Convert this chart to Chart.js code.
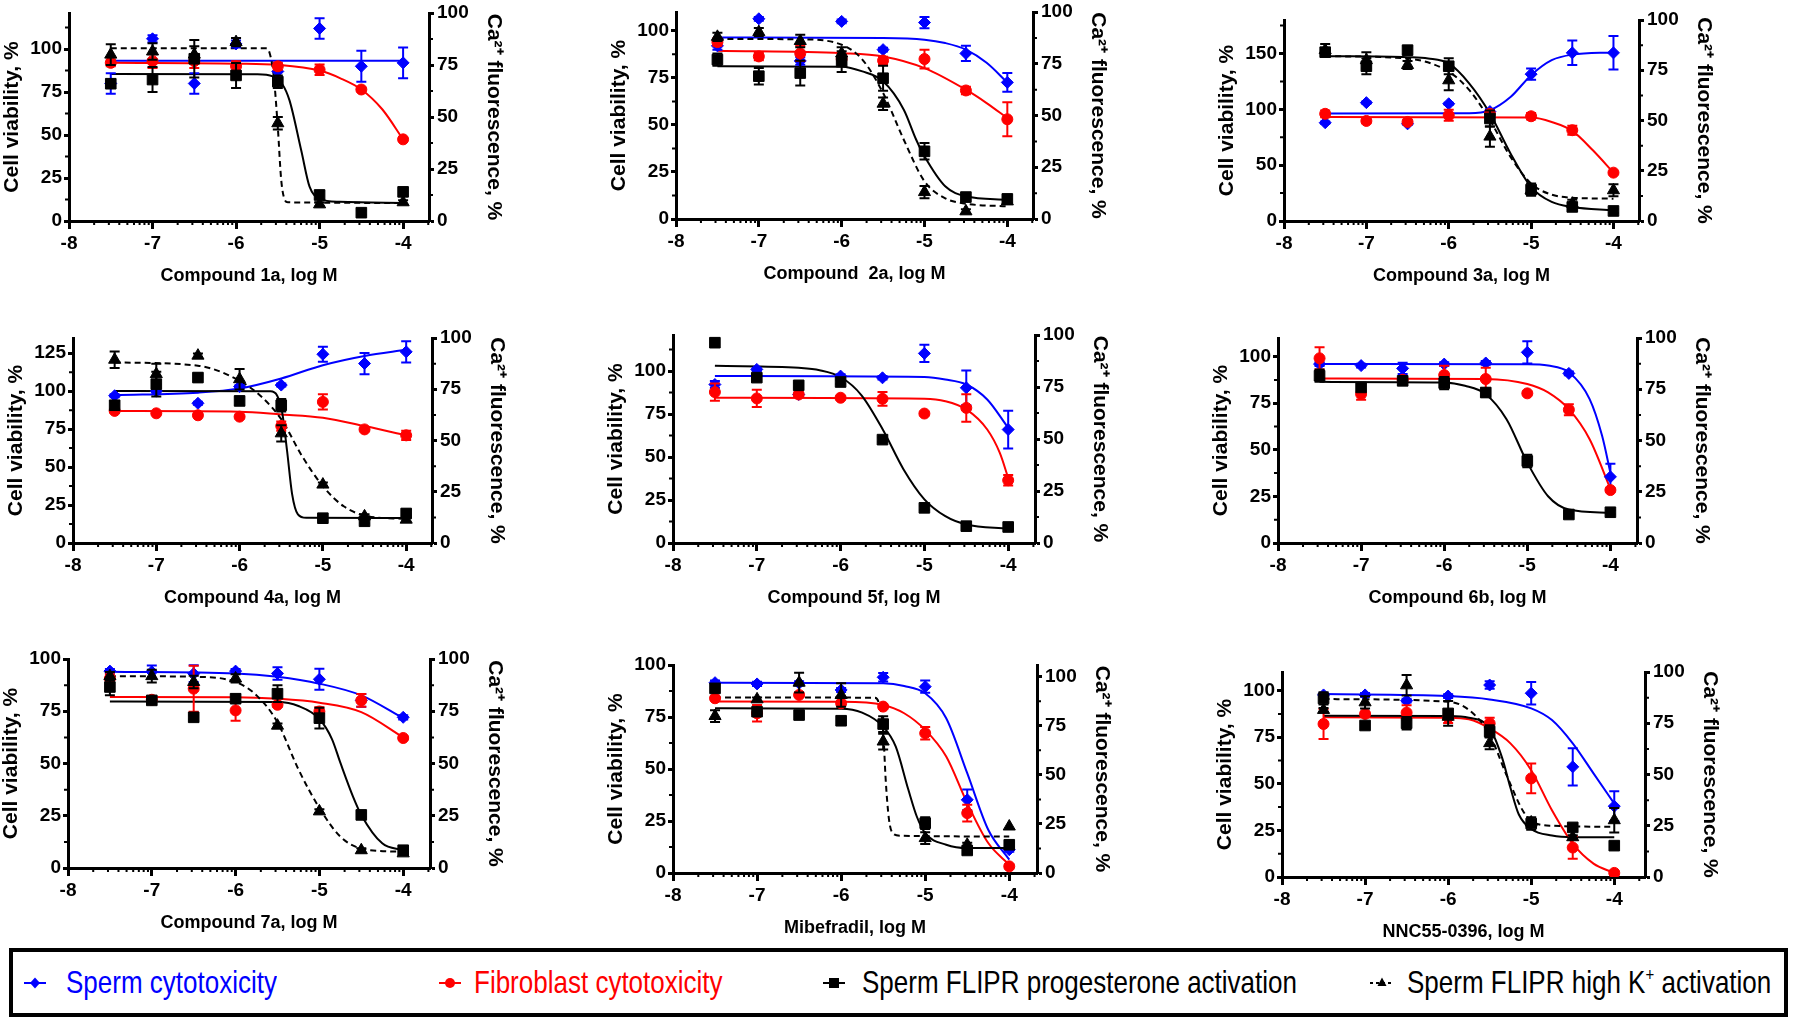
<!DOCTYPE html>
<html>
<head>
<meta charset="utf-8">
<script src="https://cdn.jsdelivr.net/npm/chart.js@4.4.0/dist/chart.umd.min.js"></script>
<style>
  body { margin: 0; background: #fff; width: 1800px; height: 1024px; position: relative; overflow: hidden;
         font-family: "Liberation Sans", Arial, Helvetica, sans-serif; }
  .panel { position: absolute; }
  #legend { position: absolute; left: 9px; top: 948px; width: 1771px; height: 61px; border: 4px solid #000; }
  .item { position: absolute; top: 0; height: 61px; display: flex; align-items: center; font-size: 26px; white-space: nowrap; }
  .item span { display: inline-block; transform: scaleY(1.18); }
  .item svg { position: absolute; top: 18px; }
</style>
</head>
<body>
<div id="panels"></div>
<div id="legend">
  <div class="item" style="left:53px;color:#0000ff"><svg width="26" height="26" style="left:-44px"><line x1="2" y1="13" x2="24" y2="13" stroke="#0000ff" stroke-width="2"/><polygon points="13,7.5 18,13 13,18.5 8,13" fill="#0000ff"/></svg><span>Sperm cytotoxicity</span></div>
  <div class="item" style="left:461px;color:#ff0000"><svg width="26" height="26" style="left:-37px"><line x1="2" y1="13" x2="24" y2="13" stroke="#ff0000" stroke-width="2"/><circle cx="13" cy="13" r="5" fill="#ff0000"/></svg><span>Fibroblast cytotoxicity</span></div>
  <div class="item" style="left:849px;color:#000"><svg width="26" height="26" style="left:-41px"><line x1="2" y1="13" x2="24" y2="13" stroke="#000" stroke-width="2"/><rect x="8" y="8" width="10" height="10" fill="#000"/></svg><span>Sperm FLIPR progesterone activation</span></div>
  <div class="item" style="left:1394px;color:#000"><svg width="26" height="26" style="left:-38px"><line x1="1" y1="13" x2="25" y2="13" stroke="#000" stroke-width="2" stroke-dasharray="3,3"/><polygon points="13,7.5 17.5,16 8.5,16" fill="#000"/></svg><span>Sperm FLIPR high K<sup style="font-size:15px;line-height:0">+</sup>&nbsp;activation</span></div>
</div>
<script>
// ---- data ----
const doses = [-7.5, -7, -6.5, -6, -5.5, -5, -4.5, -4];
const xTickValues = [-8, -7, -6, -5, -4];
const rightTickValues = [0, 25, 50, 75, 100];
const xLabels = ['Compound 1a, log M', 'Compound  2a, log M', 'Compound 3a, log M',
                 'Compound 4a, log M', 'Compound 5f, log M', 'Compound 6b, log M',
                 'Compound 7a, log M', 'Mibefradil, log M', 'NNC55-0396, log M'];
const leftMax = [121, 110, 180, 135, 121, 110, 100, 100, 110];
const leftStep = [25, 25, 50, 25, 25, 25, 25, 25, 25];
const rightMax = [100, 100, 100, 100, 100, 100, 100, 106, 100];
const xMax = [-3.69, -3.69, -3.69, -3.69, -3.68, -3.68, -3.68, -3.67, -3.63];

// cell viability, % (left axis)
const spermVals = [
  [80, 106, 80, 103, 87, 112, 90, 92],
  [92, 106.4, 84, 105, 90, 104.4, 88, 72.6],
  [88, 106, 87, 105, 98, 131.5, 150.6, 150.6],
  [97, 100, 92, 103, 104, 124.3, 118.2, 125.9],
  [92.2, 101, 86.4, 97.1, 96.1, 110.3, 90.3, 66],
  [96, 95.2, 93.7, 96, 96.6, 102.3, 91, 35.5],
  [94.2, 93.9, 93, 94.2, 93.1, 90.3, 80.2, 72.1],
  [91.5, 90.9, 91.2, 88, 94.1, 89.6, 35.2, 11.2],
  [97.7, 97.7, 94.6, 97.1, 103, 98.6, 59.1, 38]
];
const spermErr = [
  [6, 2, 6, 2, 4, 6, 9, 9],
  [2, 1, 2, 1, 1, 3, 4, 5],
  [1, 1, 1, 1, 2, 5, 11, 15],
  [1, 1, 1, 1, 1, 5, 7, 7],
  [2, 1, 1, 1, 1, 5, 10, 11],
  [1, 1, 3, 1, 1, 6, 1, 7],
  [1, 3, 4, 1, 3, 5, 3, 1],
  [1, 1, 1, 1, 2, 3, 5, 1],
  [1, 1, 1, 1, 2, 6, 10, 8]
];
const fibroVals = [
  [92, 93, 93, 90, 90, 88, 76.5, 47.5],
  [94, 86.4, 88, 85, 84.2, 85, 68.3, 53],
  [96, 89.6, 88.7, 94.7, 96, 93.8, 81.3, 43.3],
  [87, 85.4, 84.1, 83.2, 77, 92.9, 74.8, 70.9],
  [87.8, 84.1, 86.4, 84.5, 83.9, 75.3, 78.6, 36.5],
  [99.1, 79.9, 87.6, 90.1, 88, 80.3, 71.5, 28.4],
  [90.7, 80.5, 85.8, 75.4, 78.1, 74.9, 80.2, 62.2],
  [84, 76.8, 85.6, 81.6, 80, 67.2, 28.8, 3.2],
  [82.1, 87.5, 88.2, 85.7, 82.4, 52.9, 15.8, 2.2]
];
const fibroErr = [
  [2, 4, 4, 3, 2, 3, 1, 1],
  [2, 2, 4, 2, 2, 5, 2, 9],
  [3, 2, 2, 5, 3, 3, 4, 1],
  [1, 1, 1, 1, 3, 5, 1, 3],
  [5, 5, 1, 1, 4, 1, 8, 3],
  [6, 3, 1, 5, 6, 1, 3, 1],
  [2, 1, 11, 5, 1, 2, 3, 1],
  [1, 4, 1, 1, 1, 3, 4, 1],
  [8, 1, 4, 3, 3, 8, 6, 1]
];
// Ca2+ fluorescence, % (right axis)
const progVals = [
  [66, 68, 78, 70, 67, 12.5, 4, 14],
  [77, 69, 70.5, 76, 68, 32.7, 10.6, 9.7],
  [84, 77, 85, 77, 51, 15.6, 7, 5],
  [67.2, 77.5, 80.7, 69.3, 67.2, 12.1, 10.6, 14.4],
  [96.3, 79.5, 75.8, 77.4, 49.7, 16.9, 8.1, 7.7],
  [81.6, 75.9, 79.1, 78, 73.4, 40, 13.9, 15],
  [86.6, 80.2, 72.1, 81, 83.4, 71.7, 25.4, 8.5],
  [94.1, 82.2, 80.5, 77.6, 75.9, 25.4, 11.5, 14.4],
  [87.1, 73.9, 75, 79.8, 71, 26.1, 24.2, 15.3]
];
const progErr = [
  [2, 6, 9, 6, 3, 2, 1, 2],
  [3, 4, 6, 5, 6, 4, 2, 2],
  [2, 4, 2, 4, 4, 3, 2, 1],
  [2, 6, 2, 2, 3, 1, 1, 2],
  [2, 1, 1, 1, 1, 1, 1, 1],
  [3, 1, 2, 3, 2, 3, 1, 1],
  [4, 1, 1, 2, 4, 5, 1, 1],
  [2, 2, 1, 1, 4, 3, 1, 1],
  [3, 1, 3, 6, 3, 3, 1, 0]
];
const highKVals = [
  [80, 81.5, 80, 86, 47, 8, null, 9],
  [88, 90.3, 86, 80, 55.7, 13, 3.7, 8.5],
  [85, 80, 77.6, 70, 42, 15.3, 8.6, 15.3],
  [89.4, 82.4, 91.4, 79.9, 53.5, 28.5, 13, 11.4],
  null,
  null,
  [91.8, 91.8, 89, 90.7, 68.1, 27.1, 8.5, 7],
  [80, 88.5, 97, 90.7, 67, 17.8, 14.4, 23.7],
  [81.5, 85.2, 93.5, 78.2, 65.3, 26.6, 19.4, 27.7]
];
const highKErr = [
  [5, 4, 4, 2, 3, 1, 0, 1],
  [2, 2, 3, 3, 3, 3, 1, 1],
  [3, 4, 2, 5, 5, 2, 2, 3],
  [4, 5, 1, 5, 4, 1, 1, 1],
  null,
  null,
  [2, 3, 3, 2, 1, 1, 1, 0],
  [3, 1, 5, 6, 4, 3, 1, 0],
  [1, 3, 5, 1, 3, 1, 1, 6]
];

// fitted curves as [log M, value] knots
const spermFit = [
  [[-7.5, 93.2], [-4, 93.2]],
  [[-7.5, 96.5], [-5.5, 96.2], [-5, 95.3], [-4.75, 93.5], [-4.5, 90], [-4.25, 83], [-4, 72.5]],
  [[-7.5, 96.2], [-5.75, 96.5], [-5.5, 99.2], [-5.25, 111], [-5, 130.6], [-4.75, 144], [-4.5, 149], [-4, 151]],
  [[-7.5, 97.3], [-6.5, 99], [-6, 101.7], [-5.5, 108.3], [-5, 117.1], [-4.5, 123.2], [-4, 127.2]],
  [[-7.5, 97.1], [-5, 96.5], [-4.75, 95.1], [-4.5, 92.2], [-4.25, 83.5], [-4, 67]],
  [[-7.5, 96], [-5, 95.9], [-4.75, 95.2], [-4.5, 91.6], [-4.25, 77.2], [-4.1, 57.5], [-4, 37.7]],
  [[-7.5, 93.9], [-6, 93.1], [-5.5, 91.5], [-5, 88.2], [-4.5, 82.6], [-4, 71.7]],
  [[-7.5, 91.5], [-5.5, 91.2], [-5.25, 89.9], [-5, 86.4], [-4.75, 74.4], [-4.5, 48], [-4.25, 20.8], [-4, 6.4]],
  [[-7.5, 98.2], [-6, 97.1], [-5.5, 95.3], [-5, 90.5], [-4.75, 84.2], [-4.5, 71.7], [-4.25, 55.6], [-4, 39.4]]
];
const fibroFit = [
  [[-7.5, 92], [-6, 91.5], [-5.5, 90.8], [-5, 87.5], [-4.75, 83], [-4.5, 76.5], [-4.25, 65], [-4, 47.5]],
  [[-7.5, 89.4], [-6, 88.1], [-5.5, 86.4], [-5, 80.2], [-4.5, 68.7], [-4.25, 61.6], [-4, 53.6]],
  [[-7.5, 93.2], [-5, 92.6], [-4.75, 88.7], [-4.5, 80.7], [-4.25, 63.3], [-4, 43.3]],
  [[-7.5, 86.9], [-6, 86.5], [-5.5, 84.7], [-5, 82.5], [-4.5, 77], [-4, 70.9]],
  [[-7.5, 84.5], [-5, 83.9], [-4.75, 82.5], [-4.5, 77.7], [-4.25, 66], [-4.1, 52.4], [-4, 37.9]],
  [[-7.5, 88.3], [-5.5, 88], [-5, 85.3], [-4.75, 80.8], [-4.5, 71.8], [-4.25, 55.7], [-4, 29.1]],
  [[-7.5, 81.8], [-6, 81.7], [-5.5, 81], [-5, 79.1], [-4.5, 74.6], [-4, 62.5]],
  [[-7.5, 82.4], [-6, 82.3], [-5.5, 80.8], [-5.25, 76.8], [-5, 68.8], [-4.75, 56], [-4.5, 33.6], [-4.25, 14.4], [-4, 4]],
  [[-7.5, 85.7], [-6, 85.5], [-5.75, 84.6], [-5.5, 79.7], [-5.25, 71.7], [-5, 57.3], [-4.75, 35.8], [-4.5, 17.9], [-4.25, 7.2], [-4, 2.2]]
];
const progFit = [
  [[-7.5, 70.7], [-5.75, 70.5], [-5.56, 69.5], [-5.45, 66], [-5.36, 58], [-5.22, 34], [-5.12, 16.5], [-5, 10.8], [-4.76, 9.2], [-4, 8.7]],
  [[-7.5, 73.8], [-6, 73.6], [-5.75, 71.3], [-5.5, 66.5], [-5.25, 52.8], [-5.1, 38.3], [-5, 30.3], [-4.75, 15.8], [-4.5, 11], [-4, 9.3]],
  [[-7.5, 82], [-6.5, 81.5], [-6.25, 80.9], [-6, 78.4], [-5.75, 68.4], [-5.5, 53.5], [-5.25, 33.6], [-5, 16.9], [-4.75, 9.5], [-4.5, 7], [-4, 5.3]],
  [[-7.5, 74.2], [-5.63, 74], [-5.55, 72], [-5.49, 64], [-5.43, 45], [-5.37, 24], [-5.3, 14], [-5.2, 12.3], [-4, 12.2]],
  [[-7.5, 85.2], [-6.5, 84.2], [-6.25, 83.1], [-6, 79.8], [-5.75, 71], [-5.5, 54.8], [-5.25, 35.5], [-5, 21], [-4.75, 12.9], [-4.5, 8.9], [-4, 6.9]],
  [[-7.5, 78.6], [-6, 78.3], [-5.75, 76.7], [-5.5, 72.6], [-5.25, 60.4], [-5, 39.2], [-4.75, 22.8], [-4.5, 16.3], [-4, 14.7]],
  [[-7.5, 79.7], [-5.5, 79.4], [-5.25, 77.5], [-5, 71.3], [-4.85, 61.7], [-4.75, 50.4], [-4.6, 34.3], [-4.5, 25.4], [-4.25, 11.8], [-4, 8.5]],
  [[-7.5, 83.9], [-6, 83.7], [-5.75, 81.7], [-5.5, 74.6], [-5.35, 64.4], [-5.2, 42.4], [-5.1, 28.8], [-5, 20.3], [-4.75, 14.4], [-4.5, 12.7], [-4, 12.7]],
  [[-7.5, 78.7], [-6, 78.5], [-5.75, 77.7], [-5.5, 72.6], [-5.35, 58.1], [-5.25, 43.5], [-5.15, 30.6], [-5, 23.4], [-4.75, 20.2], [-4.5, 19.4], [-4, 19.4]]
];
const highKFit = [
  [[-7.5, 83.1], [-5.64, 83], [-5.6, 81], [-5.55, 70], [-5.5, 45], [-5.46, 20], [-5.42, 10.5], [-5.38, 9], [-4, 8.7]],
  [[-7.5, 87], [-6.5, 86.8], [-6, 84.2], [-5.75, 77], [-5.5, 60.9], [-5.25, 38.3], [-5, 18.2], [-4.75, 10], [-4.5, 7.4], [-4, 6.1]],
  [[-7.5, 82], [-6.5, 80.8], [-6, 74.3], [-5.75, 65.1], [-5.5, 50.2], [-5.25, 31.9], [-5, 18.6], [-4.75, 13.1], [-4.5, 11.6], [-4, 11.1]],
  [[-7.5, 88.1], [-6.5, 86.5], [-6, 79.1], [-5.75, 71.8], [-5.5, 60.4], [-5.25, 42.4], [-5, 27.7], [-4.75, 17.9], [-4.5, 13.4], [-4, 11.7]],
  null,
  null,
  [[-7.5, 91.8], [-6.5, 91.5], [-6, 89], [-5.75, 82.6], [-5.5, 69.7], [-5.25, 47.2], [-5, 28.7], [-4.75, 15], [-4.5, 9.3], [-4, 7.7]],
  [[-7.5, 89.5], [-5.6, 89.3], [-5.55, 86.4], [-5.5, 72.9], [-5.47, 47.5], [-5.43, 27.1], [-5.38, 20], [-5.3, 19], [-4, 18.6]],
  [[-7.5, 86.8], [-6, 85.5], [-5.75, 81.5], [-5.5, 69.4], [-5.3, 50], [-5.1, 32.3], [-5, 27.4], [-4.75, 25], [-4, 24.5]]
];

// ---- layout: plot box of each panel in page pixels [left, right, top, bottom] ----
const boxes = [
  [69, 429, 13, 221], [676, 1033, 12, 219], [1284, 1639, 20, 221],
  [73, 432, 338, 543], [673, 1035, 335, 543], [1278, 1637, 338, 543],
  [68, 430, 659, 868], [673, 1037, 665, 873], [1282, 1645, 672, 877]
];
const PAD_L = 70, PAD_R = 78, PAD_T = 16, PAD_B = 70;
const FONT = '"Liberation Sans", Arial, Helvetica, sans-serif';
const BLUE = '#0000ff', RED = '#ff0000', BLACK = '#000000';

Chart.defaults.font.family = FONT;
Chart.defaults.color = BLACK;

// error bars drawn with the dataset's own y scale
const errorBars = {
  id: 'errorBars',
  beforeDatasetDraw(chart, args) {
    const ds = chart.data.datasets[args.index];
    if (!ds.errorBars) return;
    const yScale = chart.scales[ds.yAxisID];
    const ctx = chart.ctx;
    ctx.save();
    ctx.strokeStyle = ds.borderColor;
    ctx.lineWidth = 2;
    ctx.beginPath();
    ds.data.forEach((p, i) => {
      if (!p.err) return;
      const x = args.meta.data[i].x;
      const top = yScale.getPixelForValue(p.y + p.err);
      const bot = yScale.getPixelForValue(p.y - p.err);
      ctx.moveTo(x, top); ctx.lineTo(x, bot);
      ctx.moveTo(x - 5, top); ctx.lineTo(x + 5, top);
      ctx.moveTo(x - 5, bot); ctx.lineTo(x + 5, bot);
    });
    ctx.stroke();
    ctx.restore();
  }
};

// small log-decade ticks on x, half-step ticks on both y axes
const minorTicks = {
  id: 'minorTicks',
  afterDraw(chart) {
    const ctx = chart.ctx;
    const xs = chart.scales.x, yl = chart.scales.y, yr = chart.scales.y2;
    ctx.save();
    ctx.strokeStyle = BLACK;
    ctx.lineWidth = 2;
    ctx.beginPath();
    for (let d = -8; d <= -4; d++) {
      for (let k = 2; k <= 9; k++) {
        const v = d + Math.log10(k);
        if (v > xs.max) continue;
        const px = xs.getPixelForValue(v);
        ctx.moveTo(px, xs.top); ctx.lineTo(px, xs.top + 4);
      }
    }
    const ls = chart.options.scales.y.minorStep;
    for (let v = ls; v < yl.max; v += ls * 2) {
      const py = yl.getPixelForValue(v);
      ctx.moveTo(yl.right, py); ctx.lineTo(yl.right - 4, py);
    }
    for (let v = 12.5; v < yr.max; v += 25) {
      const py = yr.getPixelForValue(v);
      ctx.moveTo(yr.left, py); ctx.lineTo(yr.left + 4, py);
    }
    ctx.stroke();
    ctx.restore();
  }
};

function pointSet(vals, errs, color, style, radius, axis, order) {
  return {
    order, yAxisID: axis, showLine: false, errorBars: true,
    data: doses.map((x, i) => ({ x, y: vals[i], err: errs[i] })).filter(p => p.y !== null),
    pointStyle: style, pointRadius: radius, pointHoverRadius: radius,
    pointBackgroundColor: color, pointBorderColor: color, pointBorderWidth: 1,
    borderColor: color, backgroundColor: color
  };
}

function fitSet(knots, color, dash, axis, order) {
  return {
    order, yAxisID: axis,
    data: knots.map(([x, y]) => ({ x, y })),
    borderColor: color, borderWidth: 2, borderDash: dash,
    pointRadius: 0, pointHoverRadius: 0,
    cubicInterpolationMode: 'monotone', fill: false
  };
}

const tickFont = { size: 19, weight: 'bold', family: FONT };
const axisCommon = {
  border: { display: true, width: 3, color: BLACK },
  grid: { drawOnChartArea: false, drawTicks: true, tickLength: 5, tickWidth: 3, tickColor: BLACK }
};

const host = document.getElementById('panels');

boxes.forEach(([L, R, T, B], i) => {
  const wrap = document.createElement('div');
  wrap.className = 'panel';
  const w = R - L + PAD_L + PAD_R, h = B - T + PAD_T + PAD_B;
  wrap.style.left = (L - PAD_L) + 'px';
  wrap.style.top = (T - PAD_T) + 'px';
  wrap.style.width = w + 'px';
  wrap.style.height = h + 'px';
  const canvas = document.createElement('canvas');
  canvas.width = w; canvas.height = h;
  canvas.style.width = w + 'px'; canvas.style.height = h + 'px';
  wrap.appendChild(canvas);
  host.appendChild(wrap);

  const datasets = [
    fitSet(spermFit[i], BLUE, [], 'y', 10),
    fitSet(fibroFit[i], RED, [], 'y', 9),
    fitSet(progFit[i], BLACK, [], 'y2', 8),
    pointSet(spermVals[i], spermErr[i], BLUE, 'rectRot', 6, 'y', 4),
    pointSet(fibroVals[i], fibroErr[i], RED, 'circle', 5.5, 'y', 3),
    pointSet(progVals[i], progErr[i], BLACK, 'rect', 7.5, 'y2', 2)
  ];
  if (highKFit[i]) datasets.push(fitSet(highKFit[i], BLACK, [6, 4], 'y2', 7));
  if (highKVals[i]) datasets.push(pointSet(highKVals[i], highKErr[i], BLACK, 'triangle', 7, 'y2', 1));

  const lStep = leftStep[i];
  const leftTicks = [];
  for (let v = 0; v <= leftMax[i]; v += lStep) leftTicks.push(v);

  new Chart(canvas, {
    type: 'line',
    data: { datasets },
    options: {
      responsive: false,
      animation: false,
      devicePixelRatio: 1,
      layout: { padding: { top: PAD_T, left: 0, right: 0, bottom: 0 } },
      plugins: { legend: { display: false }, tooltip: { enabled: false } },
      scales: {
        x: {
          ...axisCommon,
          type: 'linear', position: 'bottom', min: -8, max: xMax[i],
          grid: { ...axisCommon.grid, tickLength: 8 },
          afterBuildTicks: s => { s.ticks = xTickValues.map(v => ({ value: v })); },
          afterFit: s => { s.height = PAD_B; },
          ticks: { font: tickFont, color: BLACK, padding: 3, maxRotation: 0, autoSkip: false,
                   callback: v => String(v) },
          title: { display: true, text: xLabels[i], color: BLACK,
                   font: { size: 18, weight: 'bold', family: FONT }, padding: { top: 0, bottom: 4 } }
        },
        y: {
          ...axisCommon,
          type: 'linear', position: 'left', min: 0, max: leftMax[i],
          minorStep: lStep / 2,
          afterBuildTicks: s => { s.ticks = leftTicks.map(v => ({ value: v })); },
          afterFit: s => { s.width = PAD_L; },
          ticks: { font: tickFont, color: BLACK, padding: 2 },
          title: { display: true, text: 'Cell viability, %', color: BLACK,
                   font: { size: 21, weight: 'bold', family: FONT }, padding: { top: 1, bottom: 1 } }
        },
        y2: {
          ...axisCommon,
          type: 'linear', position: 'right', min: 0, max: rightMax[i],
          afterBuildTicks: s => { s.ticks = rightTickValues.map(v => ({ value: v })); },
          afterFit: s => { s.width = PAD_R; },
          ticks: { font: tickFont, color: BLACK, padding: 3 },
          title: { display: true, text: 'Ca²⁺ fluorescence, %', color: BLACK,
                   font: { size: 21, weight: 'bold', family: FONT }, padding: { top: 1, bottom: 1 } }
        }
      }
    },
    plugins: [errorBars, minorTicks]
  });
});
</script>
</body>
</html>
